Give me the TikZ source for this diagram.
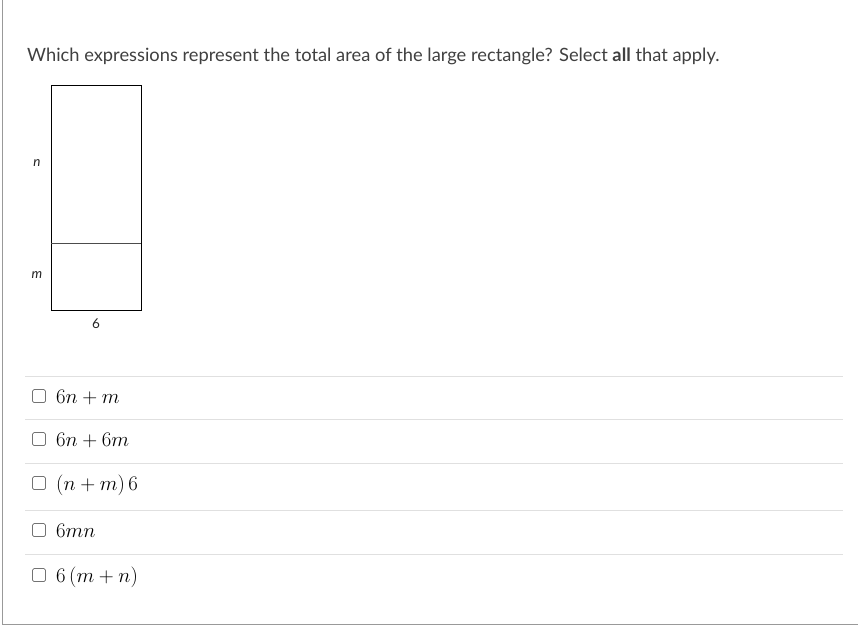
\documentclass[tikz,border=0pt]{standalone}
\usepackage{fontspec}
\setmainfont{Lato}
\usepackage{amsmath}
\begin{document}
\begin{tikzpicture}[x=1pt,y=-1pt,
  qtext/.style={anchor=base west, inner sep=0pt, text=black!75, font=\fontsize{18.3}{22}\selectfont},
  lab/.style={inner sep=0pt, text=black!85, font=\fontsize{13.5}{16}\selectfont},
  sep/.style={draw=black!12, line width=0.8pt},
  cbox/.style={draw=black!55, rounded corners=1.5pt, line width=0.7pt, minimum width=13pt, minimum height=13pt, inner sep=0pt},
  ans/.style={anchor=base west, inner sep=0pt, font=\fontsize{22.3}{26}\selectfont}]
\useasboundingbox (0,0) rectangle (858,634);
\fill[white] (0,0) rectangle (858,634);
\draw[black!40, line width=1pt] (2.5,0) -- (2.5,624) -- (858,624);
\node[qtext] (q) at (27,62) {Which expressions represent the total area of the large rectangle? Select \textbf{all} that apply.};
% rectangle
\draw[line width=1pt] (51,85) rectangle (141,310);
\draw[black!70, line width=0.8pt] (51,243) -- (141,243);
\node[lab] (n) at (37,163) {\itshape n};
\node[lab] (m) at (37,275) {\itshape m};
\node[lab] (six) at (96,324) {6};
% separators
\foreach \y in {376,419,463,510,554} \draw[sep] (25,\y) -- (843,\y);
% checkboxes and answers
\node[cbox] (c1) at (39,396) {};
\node[cbox] (c2) at (39,439) {};
\node[cbox] (c3) at (39,483) {};
\node[cbox] (c4) at (39,530) {};
\node[cbox] (c5) at (39,575) {};
\node[ans] (a1) at (56,403) {$6n+m$};
\node[ans] (a2) at (56,446) {$6n+6m$};
\node[ans] (a3) at (56,490) {$\left(n+m\right)6$};
\node[ans] (a4) at (56,537) {$6mn$};
\node[ans] (a5) at (56,582) {$6\left(m+n\right)$};
\end{tikzpicture}
\end{document}
